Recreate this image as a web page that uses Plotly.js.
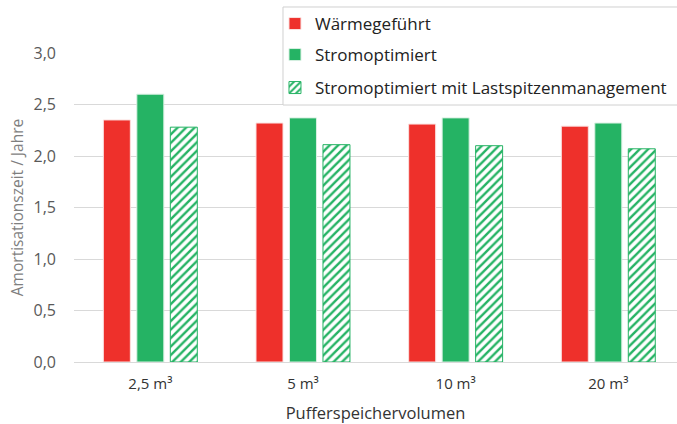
<!DOCTYPE html>
<html>
<head>
<meta charset="utf-8">
<script src="https://cdn.plot.ly/plotly-3.0.1.min.js"></script>
<style>html,body{margin:0;padding:0;background:#fff;}#chart{width:677px;height:424px;}</style>
</head>
<body>
<div id="chart"></div>
<script>
const categories = ["2,5 m³", "5 m³", "10 m³", "20 m³"];
const waermegefuehrt = [2.35, 2.32, 2.31, 2.29];
const stromoptimiert = [2.60, 2.37, 2.37, 2.32];
const lastspitzen = [2.28, 2.11, 2.10, 2.07];
const seriesNames = ["Wärmegeführt", "Stromoptimiert", "Stromoptimiert mit Lastspitzenmanagement"];

const RED = "#EE302B";
const GREEN = "#25B364";
const FONT = "Open Sans, sans-serif";

const traces = [
  {type: "bar", name: seriesNames[0], x: categories, y: waermegefuehrt, legend: "legend",
   marker: {color: RED, line: {color: "#fbe0df", width: 1}}},
  {type: "bar", name: seriesNames[1], x: categories, y: stromoptimiert, legend: "legend2",
   marker: {color: GREEN, line: {color: "#d8f0e2", width: 1}}},
  {type: "bar", name: seriesNames[2], x: categories, y: lastspitzen, legend: "legend3",
   marker: {color: "#ffffff", line: {color: GREEN, width: 1},
            pattern: {shape: "/", fgcolor: GREEN, bgcolor: "#ffffff", size: 6, solidity: 0.4}}}
];

const legendBase = {
  x: 0.3333, xanchor: "left", yanchor: "middle",
  bgcolor: "rgba(0,0,0,0)", borderwidth: 0,
  font: {size: 17, color: "#222", family: FONT}
};

const layout = {
  width: 677, height: 424,
  margin: {l: 74, r: 0, t: 53, b: 62},
  paper_bgcolor: "#fff", plot_bgcolor: "#fff",
  barmode: "group", bargap: 0.342, bargroupgap: 0.194,
  separators: ",.",
  font: {family: FONT, color: "#404040"},
  xaxis: {
    type: "category", range: [-0.5, 3.45],
    showgrid: false, showline: true, linecolor: "#d9d9d9", linewidth: 1,
    ticks: "", tickfont: {size: 15, color: "#333"}, ticklabelstandoff: 8,
    title: {text: "Pufferspeichervolumen", font: {size: 16.5, color: "#333"}, standoff: 18}
  },
  yaxis: {
    range: [0, 3], dtick: 0.5, tickformat: ".1f",
    showgrid: true, gridcolor: "#d9d9d9", gridwidth: 1, zeroline: false,
    ticks: "", tickfont: {size: 16, color: "#595959"}, ticklabelstandoff: 17,
    title: {text: "Amortisationszeit / Jahre", font: {size: 15.5, color: "#7f7f7f"}, standoff: 6}
  },
  showlegend: true,
  legend: Object.assign({}, legendBase, {y: 1.0939}),
  legend2: Object.assign({}, legendBase, {y: 0.9935}),
  legend3: Object.assign({}, legendBase, {y: 0.8867}),
  shapes: [{
    type: "rect", xref: "paper", yref: "paper", layer: "above",
    x0: 0.3466, x1: 1.05, y0: 0.8317, y1: 1.1489,
    fillcolor: "#ffffff", line: {color: "#d0d0d0", width: 1}
  }]
};

Plotly.newPlot("chart", traces, layout, {displayModeBar: false, staticPlot: true});
</script>
</body>
</html>
